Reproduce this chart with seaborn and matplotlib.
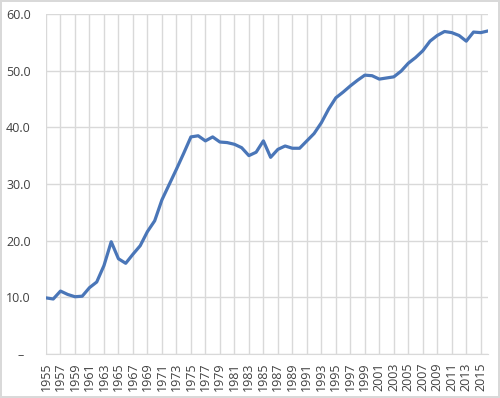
import matplotlib
matplotlib.use("Agg")
import matplotlib.pyplot as plt
import seaborn as sns
import pandas as pd

years = list(range(1955, 2017))
values = [
    9.9, 9.7, 11.1, 10.5, 10.1, 10.2, 11.7, 12.7, 15.6, 19.8,
    16.8, 16.0, 17.6, 19.1, 21.6, 23.5, 27.2, 29.9, 32.6, 35.4,
    38.3, 38.5, 37.6, 38.3, 37.4, 37.3, 37.0, 36.4, 35.0, 35.6,
    37.6, 34.7, 36.1, 36.7, 36.3, 36.3, 37.6, 38.9, 40.8, 43.2,
    45.2, 46.2, 47.3, 48.3, 49.2, 49.1, 48.5, 48.7, 48.9, 49.9,
    51.3, 52.3, 53.5, 55.2, 56.2, 56.9, 56.7, 56.2, 55.2, 56.8,
    56.7, 57.0,
]
y_ticks = [0, 10, 20, 30, 40, 50, 60]
y_labels = ["–  ", "10.0", "20.0", "30.0", "40.0", "50.0", "60.0"]
x_ticks = list(range(1955, 2016, 2))

df = pd.DataFrame({"year": years, "value": values})

sns.set_style("white")
plt.rcParams["font.family"] = ["Open Sans", "DejaVu Sans"]

fig = plt.figure(figsize=(5, 3.98), dpi=100)
fig.patch.set_edgecolor("#d9d9d9")
fig.patch.set_linewidth(1.5)
ax = fig.add_axes([0.092, 0.1106, 0.884, 0.8544])

sns.lineplot(data=df, x="year", y="value", ax=ax, color="#4a76b8", linewidth=2.3)

ax.set_xlim(1955, 2016)
ax.set_ylim(0, 60)
ax.set_yticks(y_ticks)
ax.set_yticklabels(y_labels)
ax.set_xticks(x_ticks)
ax.set_xticklabels([str(x) for x in x_ticks], rotation=90)
ax.tick_params(axis="both", length=0, labelsize=9, labelcolor="#404040")
ax.tick_params(axis="y", pad=11)
ax.tick_params(axis="x", pad=6)
ax.grid(True, color="#d9d9d9", linewidth=1)
ax.set_axisbelow(True)
for side in ["top", "right", "left"]:
    ax.spines[side].set_visible(False)
ax.spines["bottom"].set_color("#d9d9d9")
ax.set_xlabel("")
ax.set_ylabel("")

fig.savefig("out.png", dpi=100, edgecolor=fig.get_edgecolor())
